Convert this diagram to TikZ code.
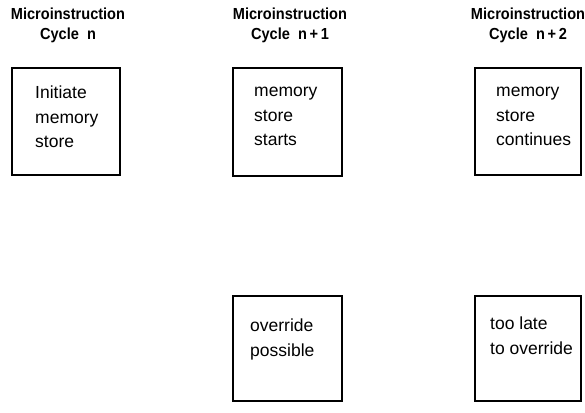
\documentclass[tikz,border=0pt]{standalone}
\usepackage{fontspec}
\setmainfont{Liberation Sans}
\newfontfamily\hdrfont[FakeStretch=0.91]{Liberation Sans}
\begin{document}
\begin{tikzpicture}[x=1pt,y=-1pt,
  box/.style={draw,line width=1.5pt,inner sep=0pt,anchor=north west},
  hdr/.style={font=\hdrfont\fontsize{16}{20}\selectfont\bfseries,align=center,inner sep=0pt},
  txt/.style={font=\fontsize{17.5}{24.5}\selectfont,align=left,anchor=north west,inner sep=0pt}]
\useasboundingbox (0,0) rectangle (585,412);
% headers
\node[hdr] (h1) at (68,25) {Microinstruction\\Cycle\ \ n};
\node[hdr] (h2) at (290,25) {Microinstruction\\Cycle\ \ n\,+\,1};
\node[hdr] (h3) at (528,25) {Microinstruction\\Cycle\ \ n\,+\,2};
% boxes
\node[box,minimum width=108pt,minimum height=107pt] (b1) at (11,67) {};
\node[box,minimum width=109pt,minimum height=108pt] (b2) at (232,67) {};
\node[box,minimum width=106pt,minimum height=107pt] (b3) at (474,67) {};
\node[box,minimum width=109pt,minimum height=105pt] (b4) at (232,295) {};
\node[box,minimum width=106pt,minimum height=105pt] (b5) at (474,295) {};
% texts
\node[txt] (t1) at (35,86) {Initiate\\memory\\store};
\node[txt] (t2) at (254,87) {memory\\store\\starts};
\node[txt] (t3) at (496,87) {memory\\store\\continues};
\node[txt] (t4) at (250,319) {override\\possible};
\node[txt] (t5) at (490,317) {too late\\to override};
\end{tikzpicture}
\end{document}
